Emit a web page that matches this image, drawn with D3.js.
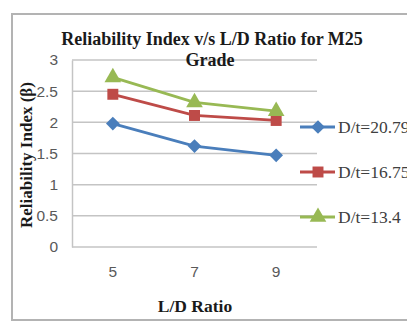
<!DOCTYPE html>
<html>
<head>
<meta charset="utf-8">
<script src="https://cdn.jsdelivr.net/npm/d3@7"></script>
<style>
  html, body { margin: 0; padding: 0; background: #fff; overflow: hidden; }
  svg { display: block; }
</style>
</head>
<body>
<svg id="chart" width="407" height="321"></svg>
<script>
// L/D ratios on the x axis
const categories = ["5", "7", "9"];
// Reliability index for each D/t ratio
const seriesNames = ["D/t=20.79", "D/t=16.75", "D/t=13.4"];
const seriesD20 = [1.98, 1.62, 1.47];
const seriesD16 = [2.45, 2.11, 2.03];
const seriesD13 = [2.72, 2.32, 2.18];
const yTicks = [0, 0.5, 1, 1.5, 2, 2.5, 3];

const colors = ["#4a7ebb", "#be4b48", "#98b954"];
const shapes = [d3.symbolDiamond2, d3.symbolSquare, d3.symbolTriangle];
const symbolSizes = [120, 120, 120];
const series = [seriesD20, seriesD16, seriesD13].map((v, i) => ({
  name: seriesNames[i], values: v, color: colors[i], shape: shapes[i], size: symbolSizes[i]
}));

const svg = d3.select("#chart");
const W = 407;
const plot = { left: 72, right: 317, top: 60, bottom: 247 };
const serif = "Liberation Serif, Times New Roman, serif";
const sans = "Liberation Sans, Arial, sans-serif";

// frame around the chart area
svg.append("rect")
  .attr("x", 12).attr("y", 14)
  .attr("width", W + 10).attr("height", 306)
  .attr("fill", "#fff").attr("stroke", "#b3b3b3").attr("stroke-width", 2);

const x = d3.scaleBand().domain(categories).range([plot.left, plot.right]);
const y = d3.scaleLinear().domain([0, 3]).range([plot.bottom, plot.top]);

// horizontal gridlines
svg.append("g").selectAll("line").data(yTicks).join("line")
  .attr("x1", plot.left).attr("x2", plot.right)
  .attr("y1", d => y(d)).attr("y2", d => y(d))
  .attr("stroke", "#c4c4c4").attr("stroke-width", 1.5);

// y axis
const yAxis = svg.append("g")
  .attr("transform", `translate(${plot.left},0)`)
  .call(d3.axisLeft(y).tickValues(yTicks).tickSize(0).tickPadding(14).tickFormat(d3.format("")));
yAxis.select(".domain").attr("stroke", "#c4c4c4").attr("stroke-width", 1.5);
yAxis.selectAll("text")
  .attr("font-family", sans).attr("font-size", 15.5).attr("fill", "#595959");

// x axis
const xAxis = svg.append("g")
  .attr("transform", `translate(0,${plot.bottom})`)
  .call(d3.axisBottom(x).tickSize(0).tickPadding(19));
xAxis.select(".domain").remove();
xAxis.selectAll("text")
  .attr("font-family", sans).attr("font-size", 15.5).attr("fill", "#595959");

// series lines and markers
const line = d3.line()
  .x((d, i) => x(categories[i]) + x.bandwidth() / 2)
  .y(d => y(d));

series.forEach(s => {
  svg.append("path")
    .attr("d", line(s.values))
    .attr("fill", "none").attr("stroke", s.color).attr("stroke-width", 2.8);
  svg.append("g").selectAll("path").data(s.values).join("path")
    .attr("transform", (d, i) => `translate(${x(categories[i]) + x.bandwidth() / 2},${y(d)})`)
    .attr("d", d3.symbol().type(s.shape).size(s.size))
    .attr("fill", s.color);
});

// legend
const legendY = [127, 172, 217];
series.forEach((s, i) => {
  const g = svg.append("g").attr("transform", `translate(300,${legendY[i]})`);
  g.append("line").attr("x1", 0).attr("x2", 35).attr("y1", 0).attr("y2", 0)
    .attr("stroke", s.color).attr("stroke-width", 2.8);
  g.append("path").attr("transform", "translate(18,0)")
    .attr("d", d3.symbol().type(s.shape).size(s.size))
    .attr("fill", s.color);
  g.append("text").attr("x", 38).attr("y", 6)
    .attr("font-family", serif).attr("font-size", 17.5).attr("fill", "#404040")
    .text(s.name);
});

// title
const title = svg.append("text")
  .attr("text-anchor", "middle")
  .attr("font-family", serif)
  .attr("font-weight", "bold").attr("font-size", 18).attr("fill", "#1a1a1a");
title.append("tspan").attr("x", 212).attr("y", 45).text("Reliability Index v/s L/D Ratio for M25");
title.append("tspan").attr("x", 210).attr("y", 66).text("Grade");

// axis titles
svg.append("text")
  .attr("x", 195).attr("y", 312).attr("text-anchor", "middle")
  .attr("font-family", serif)
  .attr("font-weight", "bold").attr("font-size", 17.5).attr("fill", "#1a1a1a")
  .text("L/D Ratio");

svg.append("text")
  .attr("transform", "translate(32,155) rotate(-90)")
  .attr("text-anchor", "middle")
  .attr("font-family", serif)
  .attr("font-weight", "bold").attr("font-size", 17).attr("fill", "#1a1a1a")
  .text("Reliability Index (β)");
</script>
</body>
</html>
